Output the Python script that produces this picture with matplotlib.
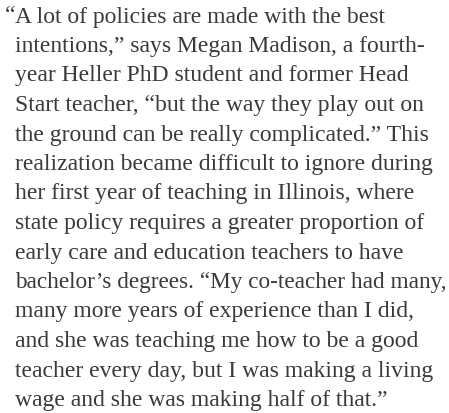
import matplotlib.pyplot as plt

# paragraph lines as they break in the reference
lines = [
    "A lot of policies are made with the best",
    "intentions,\u201d says Megan Madison, a fourth-",
    "year Heller PhD student and former Head",
    "Start teacher, \u201cbut the way they play out on",
    "the ground can be really complicated.\u201d This",
    "realization became difficult to ignore during",
    "her first year of teaching in Illinois, where",
    "state policy requires a greater proportion of",
    "early care and education teachers to have",
    "bachelor\u2019s degrees. \u201cMy co-teacher had many,",
    "many more years of experience than I did,",
    "and she was teaching me how to be a good",
    "teacher every day, but I was making a living",
    "wage and she was making half of that.\u201d",
]
opening_quote = "\u201c"

W, H = 449, 413
LEFT = 15
RIGHT_MAX = 446
FIRST_BASE = 22.5
LINE_H = 29.5
SIZE = 17.0
FONT = dict(family="Liberation Serif", color="#3a3a3a")

fig = plt.figure(figsize=(W / 100, H / 100), dpi=100)
ax = fig.add_axes([0, 0, 1, 1])
ax.set_xlim(0, W)
ax.set_ylim(H, 0)
ax.axis("off")

# hanging opening quote
ax.text(LEFT, FIRST_BASE, opening_quote, ha="right", va="baseline", size=SIZE, **FONT)

renderer = fig.canvas.get_renderer()
for i, line in enumerate(lines):
    t = ax.text(LEFT, FIRST_BASE + i * LINE_H, line, ha="left", va="baseline",
                size=SIZE, **FONT)
    # shrink a line a little if it runs past the right edge (font is wider than the original)
    bb = t.get_window_extent(renderer)
    if bb.x1 > RIGHT_MAX:
        t.set_fontsize(SIZE * (RIGHT_MAX - LEFT) / (bb.x1 - LEFT))

fig.savefig("out.png", dpi=100, facecolor="white")
